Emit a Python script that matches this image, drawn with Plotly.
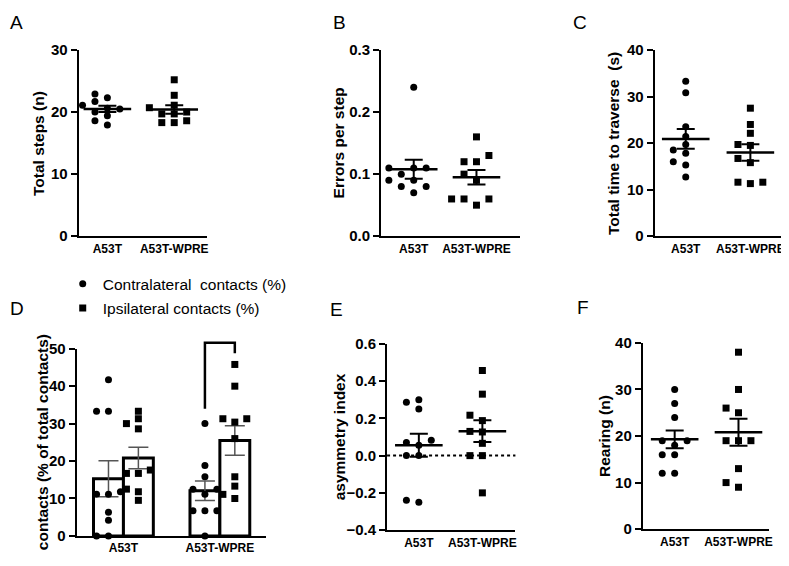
import numpy as np
import plotly.graph_objects as go

W, H = 789, 566
OFF = 8  # page body margin the browser adds around the figure
FONT = "Liberation Sans, Arial, sans-serif"

# groups on every panel
groups = ["A53T", "A53T-WPRE"]

# A - total steps
steps_a53t = [21.7, 22.3, 22.9, 20.5, 20.6, 19.4, 21.1, 20.0, 18.6, 17.9]
steps_wpre = [25.2, 22.7, 21.1, 20.7, 19.7, 20.0, 19.7, 18.3, 18.3, 18.6]

# B - errors per step
errors_a53t = [0.24, 0.11, 0.11, 0.11, 0.10, 0.09, 0.08, 0.08, 0.07, 0.09]
errors_wpre = [0.16, 0.13, 0.12, 0.12, 0.10, 0.09, 0.06, 0.06, 0.05, 0.06]

# C - time to traverse
time_a53t = [33.3, 30.8, 23.5, 21.4, 18.5, 16.0, 17.8, 19.7, 15.3, 12.7]
time_wpre = [27.5, 24.0, 22.1, 19.7, 19.5, 16.7, 15.8, 11.3, 11.6, 11.6]

# D - cylinder contacts (%)
contra_a53t = [33.3, 41.7, 33.3, 11.1, 11.8, 11.1, 6.3, 4.2, 0.0, 0.0]
ipsi_a53t = [33.3, 31.3, 30.0, 28.6, 16.7, 16.7, 17.6, 11.8, 12.5, 9.5]
contra_wpre = [30.0, 18.8, 15.8, 12.5, 11.1, 12.5, 6.7, 6.7, 6.7, 0.0]
ipsi_wpre = [45.8, 40.0, 31.3, 31.3, 30.4, 26.0, 15.8, 13.3, 10.0, 11.1]

# E - asymmetry index
asym_a53t = [0.287, 0.25, 0.30, 0.083, 0.07, 0.056, 0.0, 0.0, -0.25, -0.24]
asym_wpre = [0.457, 0.33, 0.217, 0.188, 0.13, 0.127, 0.066, 0.0, 0.0, -0.2]

# F - rearing
rearing_a53t = [30, 27, 24, 19, 19, 18, 16, 16, 12, 12]
rearing_wpre = [38, 30, 26, 25, 19, 19, 19, 13, 9, 10]


def fx(px):
    return (px - OFF) / W


def fy(py):
    return 1 - (py - OFF) / H


def sem(v):
    v = np.asarray(v, float)
    return v.std(ddof=1) / np.sqrt(len(v))


def swarm(vals, center, px_x, px_y, step=12.5, d=7.5):
    # grid beeswarm: columns step px apart, stack in a column only if no overlap
    vals = np.asarray(vals, float)
    xs = np.zeros(len(vals))
    placed = []
    for i in np.argsort(vals):
        y = vals[i] * px_y
        for k in [0, -1, 1, -2, 2, -3, 3]:
            if all(pk != k or abs(y - py) >= d for pk, py in placed):
                break
        placed.append((k, y))
        xs[i] = center + k * step / px_x
    return xs


# panel layout in pixels (as seen in the window)
panels = [
    dict(letter="A", lx=3, ly=14, tx=38, xd=(79, 208), yd=(42, 234), xr=(-0.43, 1.49),
         yr=(0, 30), dtick=10, fmt="d", title="Total steps (n)",
         data=(steps_a53t, steps_wpre)),
    dict(letter="B", lx=333, ly=14, tx=340, xd=(383, 523), yd=(42, 234), xr=(-0.52, 1.70),
         yr=(0, 0.3), dtick=0.1, fmt=".1f", title="Errors per step",
         data=(errors_a53t, errors_wpre)),
    dict(letter="C", lx=574, ly=14, tx=616, xd=(658, 786), yd=(42, 234), xr=(-0.48, 1.49),
         yr=(0, 40), dtick=10, fmt="d", title="Total time to traverse  (s)",
         data=(time_a53t, time_wpre)),
    dict(letter="D", lx=7, ly=309, tx=43, xd=(77, 267), yd=(350, 543), xr=(-0.485, 1.475),
         yr=(0, 50), dtick=10, fmt="d", title="contacts (% of total contacts)",
         data=None),
    dict(letter="E", lx=330, ly=310, tx=342, xd=(389, 518), yd=(345, 537), xr=(-0.5, 1.52),
         yr=(-0.4, 0.6), dtick=0.2, fmt=".1f", title="asymmetry index",
         data=(asym_a53t, asym_wpre)),
    dict(letter="F", lx=578, ly=308, tx=607, xd=(646, 773), yd=(344, 536), xr=(-0.5, 1.48),
         yr=(0, 40), dtick=10, fmt="d", title="Rearing (n)",
         data=(rearing_a53t, rearing_wpre)),
]

fig = go.Figure()
layout = {}
annotations = []
shapes = []
symbols = ["circle", "square"]

for n, p in enumerate(panels, start=1):
    xa = "x" if n == 1 else f"x{n}"
    ya = "y" if n == 1 else f"y{n}"
    px_x = (p["xd"][1] - p["xd"][0]) / (p["xr"][1] - p["xr"][0])
    px_y = (p["yd"][1] - p["yd"][0]) / (p["yr"][1] - p["yr"][0])

    if p["data"] is not None:
        for g, vals in enumerate(p["data"]):
            fig.add_trace(go.Scatter(
                x=swarm(vals, g, px_x, px_y), y=vals, mode="markers",
                marker=dict(symbol=symbols[g], size=7, color="black"),
                showlegend=False, xaxis=xa, yaxis=ya, cliponaxis=False))
        fig.add_trace(go.Scatter(
            x=[0, 1], y=[np.mean(v) for v in p["data"]], mode="markers",
            marker=dict(symbol="line-ew", size=34, color="black",
                        line=dict(width=2.5, color="black")),
            error_y=dict(type="data", array=[sem(v) for v in p["data"]],
                         width=9, thickness=2, color="black"),
            showlegend=False, xaxis=xa, yaxis=ya))
    else:
        off, bw = 0.155, 0.31
        series = [("Contralateral  contacts (%)", "circle", (contra_a53t, contra_wpre), -off),
                  ("Ipsilateral contacts (%)", "square", (ipsi_a53t, ipsi_wpre), off)]
        for name, sym, vals2, o in series:
            fig.add_trace(go.Bar(
                x=[g + o for g in range(2)], y=[np.mean(v) for v in vals2], width=bw,
                marker=dict(color="white", line=dict(color="black", width=3)),
                error_y=dict(type="data", array=[sem(v) for v in vals2],
                             width=10, thickness=1.5, color="#555"),
                showlegend=False, xaxis=xa, yaxis=ya))
        for k, (name, sym, vals2, o) in enumerate(series):
            xs = np.concatenate([swarm(v, g + o, px_x, px_y, step=12) for g, v in enumerate(vals2)])
            ys = np.concatenate([np.asarray(v, float) for v in vals2])
            fig.add_trace(go.Scatter(
                x=xs, y=ys, mode="markers", name=name, legendgroup=name,
                marker=dict(symbol=sym, size=7, color="black"),
                showlegend=True, xaxis=xa, yaxis=ya, cliponaxis=False))

        # significance bracket over A53T-WPRE (contra vs ipsi)
        def ypaper(v):
            return fy(p["yd"][1] - (v - p["yr"][0]) * px_y)
        top = 51.6
        shapes.append(dict(
            type="path", xref=xa, yref="paper",
            path=(f"M {1 - off},{ypaper(max(contra_wpre) + 4)} L {1 - off},{ypaper(top)} "
                  f"L {1 + off},{ypaper(top)} L {1 + off},{ypaper(max(ipsi_wpre) + 3)}"),
            line=dict(color="black", width=2.5)))

    layout["xaxis" if n == 1 else f"xaxis{n}"] = dict(
        domain=[fx(p["xd"][0]), fx(p["xd"][1])], range=list(p["xr"]), anchor=ya,
        tickvals=[0, 1], ticktext=groups, showline=True, linecolor="black",
        linewidth=2, ticks="", showgrid=False, zeroline=False,
        tickfont=dict(family=FONT, size=12, color="black", weight="bold"))
    layout["yaxis" if n == 1 else f"yaxis{n}"] = dict(
        domain=[fy(p["yd"][1]), fy(p["yd"][0])], range=list(p["yr"]),
        anchor=xa, dtick=p["dtick"], tick0=p["yr"][0], tickformat=p["fmt"],
        showline=True, linecolor="black", linewidth=2, ticks="outside",
        ticklen=6, tickwidth=2, tickcolor="black", showgrid=False, zeroline=False,
        tickfont=dict(family=FONT, size=15, color="black", weight="bold"))
    # y axis title
    annotations.append(dict(
        text=p["title"], x=fx(p["tx"]), y=fy((p["yd"][0] + p["yd"][1]) / 2),
        xref="paper", yref="paper", xanchor="center", yanchor="middle",
        textangle=-90, showarrow=False,
        font=dict(family=FONT, size=15.5, color="black", weight="bold")))
    # panel letter
    annotations.append(dict(
        text=p["letter"], x=fx(max(p["lx"], OFF)), y=fy(p["ly"]), xref="paper", yref="paper",
        xanchor="left", yanchor="middle", showarrow=False,
        font=dict(family=FONT, size=19, color="black")))

# dotted zero line on E
shapes.append(dict(type="line", xref="x5 domain", yref="y5", x0=0, x1=1, y0=0, y1=0,
                   line=dict(color="black", width=2, dash="dot")))

fig.update_layout(
    **layout,
    width=W, height=H, margin=dict(l=0, r=0, t=0, b=0),
    paper_bgcolor="white", plot_bgcolor="white",
    annotations=annotations, shapes=shapes,
    legend=dict(x=fx(63), y=fy(266), xanchor="left", yanchor="top",
                bgcolor="rgba(0,0,0,0)", tracegroupgap=1, traceorder="grouped",
                font=dict(family=FONT, size=15.5, color="black")),
    font=dict(family=FONT, color="black"),
)

fig.write_html("out.html")
